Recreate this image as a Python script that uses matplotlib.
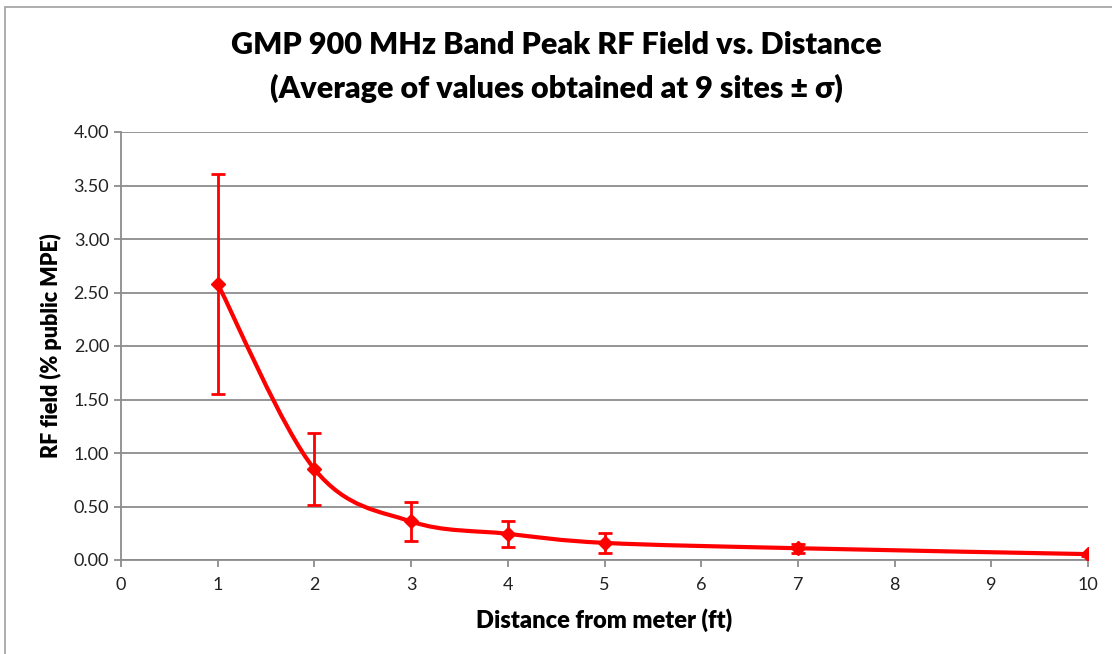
import matplotlib.pyplot as plt
from matplotlib.path import Path
from matplotlib.patches import PathPatch, Rectangle
import numpy as np

plt.rcParams["font.family"] = ["Lato", "DejaVu Sans"]

# data
distance = [1, 2, 3, 4, 5, 7, 10]
rf_field = [2.58, 0.85, 0.36, 0.245, 0.16, 0.11, 0.055]
sigma = [1.03, 0.335, 0.185, 0.12, 0.093, 0.04, 0.015]

xticks = list(range(0, 11))
yticks = [0, 0.5, 1.0, 1.5, 2.0, 2.5, 3.0, 3.5, 4.0]

fig = plt.figure(figsize=(11.12, 6.54), dpi=100)
ax = fig.add_axes([121 / 1112, 1 - 560 / 654, (1088 - 121) / 1112, (560 - 132) / 654])

# chart border
fig.patches.append(Rectangle((5 / 1112, -0.01), 1.02, 1 - 7 / 654 + 0.01,
                             transform=fig.transFigure, fill=False,
                             edgecolor="#a0a0a0", linewidth=1.2))

# smoothed line (Excel style bezier through points)
x = np.array(distance, dtype=float)
y = np.array(rf_field)
verts = [(x[0], y[0])]
codes = [Path.MOVETO]
n = len(x)
for i in range(n - 1):
    x0, y0 = (x[i - 1], y[i - 1]) if i > 0 else (x[i], y[i])
    x3, y3 = (x[i + 2], y[i + 2]) if i + 2 < n else (x[i + 1], y[i + 1])
    c1 = (x[i] + (x[i + 1] - x0) / 6, y[i] + (y[i + 1] - y0) / 6)
    c2 = (x[i + 1] - (x3 - x[i]) / 6, y[i + 1] - (y3 - y[i]) / 6)
    verts += [c1, c2, (x[i + 1], y[i + 1])]
    codes += [Path.CURVE4] * 3
ax.add_patch(PathPatch(Path(verts, codes), facecolor="none", edgecolor="#ff0000",
                       linewidth=3, capstyle="round", joinstyle="round", zorder=3))

ax.errorbar(distance, rf_field, yerr=sigma, fmt="D", color="#ff0000", markersize=7.5,
            ecolor="#ff0000", elinewidth=2, capsize=5, capthick=2, zorder=4)

ax.set_xlim(0, 10)
ax.set_ylim(0, 4)
ax.set_xticks(xticks)
ax.set_yticks(yticks)
ax.set_yticklabels([f"{v:.2f}" for v in yticks])
ax.grid(axis="y", color="#8c8c8c", linewidth=1.3)
ax.set_axisbelow(True)
for s in ["top", "right"]:
    ax.spines[s].set_visible(False)
for s in ["left", "bottom"]:
    ax.spines[s].set_color("#8c8c8c")
    ax.spines[s].set_linewidth(1.3)
ax.tick_params(colors="#8c8c8c", labelcolor="#222222", labelsize=13, length=5, width=1.3)
ax.tick_params(axis="x", pad=7)

ax.set_xlabel("Distance from meter (ft)", fontsize=17, fontweight="heavy", labelpad=11)
ax.set_ylabel("RF field (% public MPE)", fontsize=15.5, fontweight="heavy", labelpad=8)
fig.text(0.5, 1 - 45 / 654, "GMP 900 MHz Band Peak RF Field vs. Distance", ha="center", va="center",
         fontsize=22, fontweight="heavy")
fig.text(0.5, 1 - 88 / 654, "(Average of values obtained at 9 sites ± σ)", ha="center", va="center",
         fontsize=22, fontweight="heavy")

fig.savefig("out.png", dpi=100)
